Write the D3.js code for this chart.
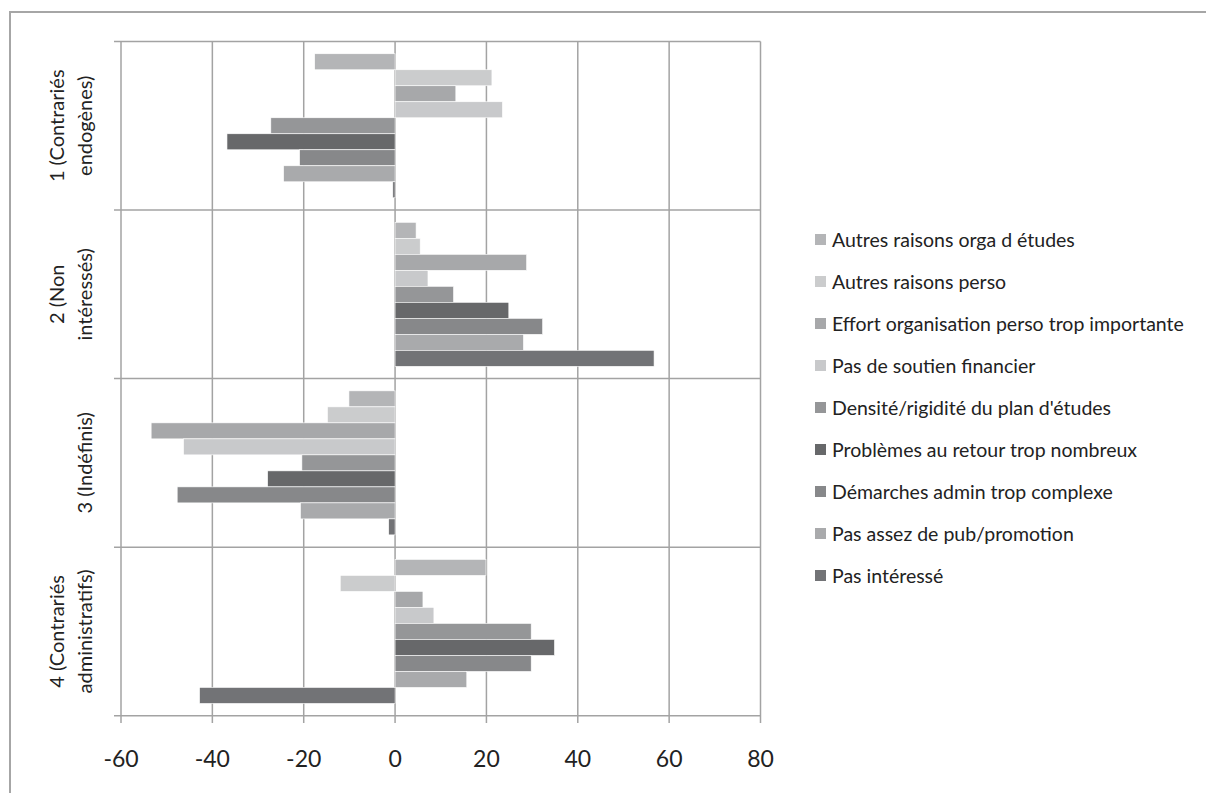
<!DOCTYPE html>
<html><head><meta charset="utf-8">
<script src="https://cdn.jsdelivr.net/npm/d3@7"></script>
<style>html,body{margin:0;padding:0;background:#fff;}svg{display:block;}</style>
</head><body>
<svg id="chart" width="1206" height="793"></svg>
<script>
const groups = ["1 (Contrariés endogènes)", "2 (Non intéressés)", "3 (Indéfinis)", "4 (Contrariés administratifs)"];
const groupLines = [["1 (Contrariés", "endogènes)"], ["2 (Non", "intéressés)"], ["3 (Indéfinis)"], ["4 (Contrariés", "administratifs)"]];
const series = ["Autres raisons orga d études", "Autres raisons perso", "Effort organisation perso trop importante", "Pas de soutien financier", "Densité/rigidité du plan d'études", "Problèmes au retour trop nombreux", "Démarches admin trop complexe", "Pas assez de pub/promotion", "Pas intéressé"];
const colors = ["#b4b5b7", "#cbcccd", "#a7a8aa", "#c8c9cb", "#959698", "#67686a", "#87888a", "#a9aaac", "#727376"];
// values per series, one per group
const autresOrga   = [-17.6, 4.6, -10.1, 19.9];
const autresPerso  = [21.2, 5.5, -14.8, -12.0];
const effort       = [13.3, 28.8, -53.4, 6.1];
const soutien      = [23.5, 7.2, -46.3, 8.5];
const densite      = [-27.2, 12.8, -20.4, 29.8];
const problemes    = [-36.8, 24.9, -27.9, 34.9];
const demarches    = [-20.9, 32.3, -47.7, 29.8];
const pub          = [-24.4, 28.1, -20.7, 15.7];
const interesse    = [-0.5, 56.7, -1.4, -42.8];
const values = [autresOrga, autresPerso, effort, soutien, densite, problemes, demarches, pub, interesse];
const xTicks = [-60, -40, -20, 0, 20, 40, 60, 80];

const svg = d3.select("#chart");
const font = "Lato, 'Open Sans', sans-serif";
const gridColor = "#a3a3a3";

// outer border
svg.append("rect").attr("x", 10).attr("y", 12).attr("width", 1220).attr("height", 800)
  .attr("fill", "none").attr("stroke", "#a6a6a6").attr("stroke-width", 2);

const x = d3.scaleLinear().domain([-60, 80]).range([121, 760.5]);
const y = d3.scaleBand().domain(groups).range([41.5, 715.7]).padding(0);
const yIn = d3.scaleBand().domain(series).range([0, y.bandwidth()]).paddingInner(0).paddingOuter(0.766);

// vertical gridlines
svg.append("g").selectAll("line").data(xTicks).join("line")
  .attr("x1", d => x(d)).attr("x2", d => x(d))
  .attr("y1", 41.5).attr("y2", 723)
  .attr("stroke", gridColor).attr("stroke-width", 1.5);
// horizontal gridlines (group boundaries)
const bounds = groups.map(g => y(g)).concat([y.range()[1]]);
svg.append("g").selectAll("line").data(bounds).join("line")
  .attr("x1", 114).attr("x2", x(80))
  .attr("y1", d => d).attr("y2", d => d)
  .attr("stroke", gridColor).attr("stroke-width", 1.5);

// bars
const data = [];
groups.forEach((g, gi) => series.forEach((s, si) => data.push({g, s, si, v: values[si][gi]})));
svg.append("g").selectAll("rect").data(data).join("rect")
  .attr("x", d => x(Math.min(0, d.v)))
  .attr("width", d => Math.abs(x(d.v) - x(0)))
  .attr("y", d => y(d.g) + yIn(d.s))
  .attr("height", yIn.bandwidth())
  .attr("fill", d => colors[d.si])
  .attr("stroke", "#ffffff").attr("stroke-width", 0.6);

// x axis labels
svg.append("g").selectAll("text").data(xTicks).join("text")
  .attr("x", d => x(d)).attr("y", 767)
  .attr("text-anchor", "middle")
  .attr("font-family", font).attr("font-size", 23).attr("fill", "#222")
  .text(d => d);

// y labels
groupLines.forEach((lines, gi) => {
  const cy = y(groups[gi]) + y.bandwidth() / 2;
  const n = lines.length;
  lines.forEach((ln, li) => {
    const bx = 92 - (n - 1 - li) * 28;
    svg.append("text")
      .attr("transform", `translate(${bx},${cy}) rotate(-90)`)
      .attr("text-anchor", "middle")
      .attr("font-family", font).attr("font-size", 20).attr("fill", "#222")
      .text(ln);
  });
});

// legend
const lg = svg.append("g").selectAll("g").data(series).join("g")
  .attr("transform", (d, i) => `translate(815,${240 + i * 42})`);
lg.append("rect").attr("x", 0).attr("y", -6).attr("width", 11).attr("height", 11)
  .attr("fill", (d, i) => colors[i]);
lg.append("text").attr("x", 17).attr("y", 7)
  .attr("font-family", font).attr("font-size", 19.5).attr("fill", "#222")
  .text(d => d);
</script>
</body></html>
